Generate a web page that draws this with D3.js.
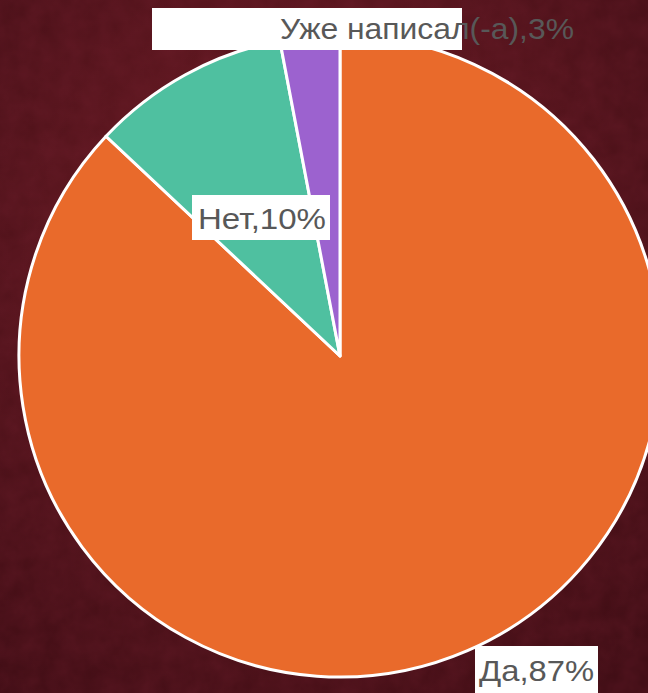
<!DOCTYPE html>
<html lang="ru">
<head>
<meta charset="UTF-8">
<title>Pie</title>
<script src="https://cdnjs.cloudflare.com/ajax/libs/d3/7.8.5/d3.min.js"></script>
<style>
  html, body { margin: 0; padding: 0; background: #4e121a; overflow: hidden; }
</style>
</head>
<body>
<script>
  const categories = ['Да', 'Нет', 'Уже написал(-а)'];
  const values = [87, 10, 3];
  const colors = ['#e96a2b', '#4fc0a0', '#9c62cf'];

  const w = 648, h = 693;
  const cx = 340, cy = 356, r = 321;

  const svg = d3.select('body').append('svg')
    .attr('width', w).attr('height', h);

  const defs = svg.append('defs');
  const grad = defs.append('radialGradient').attr('id', 'bg')
    .attr('cx', '45%').attr('cy', '35%').attr('r', '80%');
  grad.append('stop').attr('offset', '0%').attr('stop-color', '#6c1b24');
  grad.append('stop').attr('offset', '100%').attr('stop-color', '#3c0c13');

  const f = defs.append('filter').attr('id', 'tex');
  f.append('feTurbulence').attr('type', 'fractalNoise').attr('baseFrequency', 0.05).attr('numOctaves', 3).attr('result', 'n');
  f.append('feColorMatrix').attr('type', 'matrix')
    .attr('values', '0 0 0 0 0.22  0 0 0 0 0.02  0 0 0 0 0.04  0 0 0 0.6 0');

  svg.append('rect').attr('width', w).attr('height', h).attr('fill', 'url(#bg)');
  svg.append('rect').attr('width', w).attr('height', h).attr('filter', 'url(#tex)').attr('opacity', 0.5);

  const data = categories.map((c, i) => ({ name: c, value: values[i] }));

  const pie = d3.pie().value(d => d.value).sort(null);
  const arc = d3.arc().innerRadius(0).outerRadius(r);

  const g = svg.append('g').attr('transform', `translate(${cx},${cy})`);
  g.selectAll('path')
    .data(pie(data))
    .enter()
    .append('path')
    .attr('d', arc)
    .attr('fill', (d, i) => colors[i])
    .attr('stroke', '#fff')
    .attr('stroke-width', 3)
    .attr('stroke-linejoin', 'round');

  // label boxes (placed like the original)
  const labels = [
    { i: 0, box: [475, 646, 123, 47], tx: 479, ty: 681, len: 115 },
    { i: 1, box: [192, 195, 138, 45], tx: 198, ty: 229, len: 128 },
    { i: 2, box: [152, 8, 310, 42], tx: 280, ty: 39, len: 294 }
  ];

  const lg = svg.append('g');
  labels.forEach(l => {
    lg.append('rect')
      .attr('x', l.box[0]).attr('y', l.box[1])
      .attr('width', l.box[2]).attr('height', l.box[3])
      .attr('fill', '#fff');
    lg.append('text')
      .attr('x', l.tx).attr('y', l.ty)
      .attr('font-family', 'Liberation Sans, Arial, sans-serif')
      .attr('font-size', 29)
      .attr('textLength', l.len)
      .attr('lengthAdjust', 'spacingAndGlyphs')
      .attr('fill', '#585858')
      .text(`${data[l.i].name},${data[l.i].value}%`);
  });
</script>
</body>
</html>
